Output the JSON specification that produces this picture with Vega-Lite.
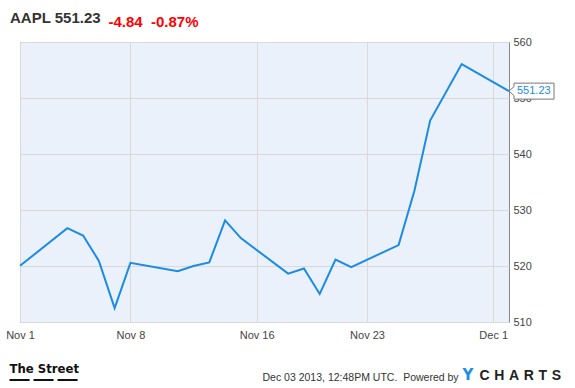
{
  "$schema": "https://vega.github.io/schema/vega-lite/v6.json",
  "width": 489,
  "height": 280,
  "autosize": {"type": "none"},
  "padding": {"left": 20, "top": 42, "right": 66, "bottom": 66},
  "background": "white",
  "config": {
    "view": {"stroke": "#888888", "strokeWidth": 1, "fill": "#eaf1fb"}
  },
  "title": {
    "text": "AAPL 551.23",
    "anchor": "start",
    "frame": "group",
    "dx": -10,
    "dy": 28,
    "offset": 16,
    "font": "Liberation Sans",
    "fontSize": 15,
    "fontWeight": "bold",
    "color": "#333333"
  },
  "data": {
    "values": [
      {"date": "2013-11-01", "close": 520.03},
      {"date": "2013-11-04", "close": 526.75},
      {"date": "2013-11-05", "close": 525.45},
      {"date": "2013-11-06", "close": 520.92},
      {"date": "2013-11-07", "close": 512.49},
      {"date": "2013-11-08", "close": 520.56},
      {"date": "2013-11-11", "close": 519.05},
      {"date": "2013-11-12", "close": 520.01},
      {"date": "2013-11-13", "close": 520.63},
      {"date": "2013-11-14", "close": 528.16},
      {"date": "2013-11-15", "close": 524.99},
      {"date": "2013-11-18", "close": 518.63},
      {"date": "2013-11-19", "close": 519.55},
      {"date": "2013-11-20", "close": 515.0},
      {"date": "2013-11-21", "close": 521.14},
      {"date": "2013-11-22", "close": 519.8},
      {"date": "2013-11-25", "close": 523.74},
      {"date": "2013-11-26", "close": 533.4},
      {"date": "2013-11-27", "close": 545.96},
      {"date": "2013-11-29", "close": 556.07},
      {"date": "2013-12-02", "close": 551.23}
    ]
  },
  "layer": [
    {
      "mark": {"type": "line", "color": "#1b8be6", "strokeWidth": 2, "clip": false},
      "encoding": {
        "x": {
          "field": "date", "type": "temporal",
          "scale": {"type": "utc", "domain": [{"year": 2013, "month": 11, "date": 1, "utc": true}, {"year": 2013, "month": 12, "date": 2, "utc": true}]},
          "axis": {
            "orient": "bottom",
            "values": [
              {"year": 2013, "month": 11, "date": 1, "utc": true},
              {"year": 2013, "month": 11, "date": 8, "utc": true},
              {"year": 2013, "month": 11, "date": 16, "utc": true},
              {"year": 2013, "month": 11, "date": 23, "utc": true},
              {"year": 2013, "month": 12, "date": 1, "utc": true}
            ],
            "labelExpr": "utcFormat(datum.value, '%b %-d')",
            "grid": true, "gridColor": "#d9d9d9", "ticks": false, "domain": false,
            "labelFlush": false, "labelOverlap": false, "labelPadding": 7,
            "labelFont": "Liberation Sans", "labelFontSize": 11, "labelColor": "#444444",
            "title": "Dec 03 2013, 12:48PM UTC.\u00a0\u00a0Powered by",
            "titleX": 242, "titleY": 58, "titleAlign": "left", "titleBaseline": "alphabetic",
            "titleFont": "Liberation Sans", "titleFontSize": 10.5, "titleFontWeight": "normal", "titleColor": "#333333"
          }
        },
        "y": {
          "field": "close", "type": "quantitative",
          "scale": {"domain": [510, 560], "zero": false, "nice": false},
          "axis": {
            "orient": "right",
            "values": [510, 520, 530, 540, 550, 560],
            "grid": true, "gridColor": "#d9d9d9", "ticks": false, "domain": false,
            "labelFlush": false, "labelPadding": 4,
            "labelFont": "Liberation Sans", "labelFontSize": 11, "labelColor": "#444444",
            "title": "The Street",
            "titleAngle": 0, "titleX": -500, "titleY": 330, "titleAlign": "left", "titleBaseline": "alphabetic",
            "titleFont": "DejaVu Sans Condensed, DejaVu Sans, sans-serif", "titleFontSize": 13, "titleFontWeight": "bold", "titleColor": "#111111"
          }
        }
      }
    },
    {
      "transform": [{"filter": "datum.close == 551.23"}],
      "mark": {
        "type": "point",
        "shape": "M0,0L0.5,-0.45L0.5,-0.8L4.5,-0.8L4.5,0.8L0.5,0.8L0.5,0.45Z",
        "size": 400, "filled": true, "fill": "white", "stroke": "#777777", "strokeWidth": 1, "opacity": 1, "clip": false
      },
      "encoding": {
        "x": {
          "field": "date", "type": "temporal",
          "axis": {
            "orient": "bottom", "labels": false, "ticks": false, "grid": false, "domain": false,
            "title": "Y", "titleX": 442, "titleY": 57, "titleAlign": "left", "titleBaseline": "alphabetic",
            "titleFont": "DejaVu Sans", "titleFontSize": 15, "titleFontWeight": "bold", "titleColor": "#1a8fe3"
          }
        },
        "y": {
          "field": "close", "type": "quantitative",
          "axis": {
            "orient": "left", "labels": false, "ticks": false, "grid": false, "domain": false,
            "title": "C\u2004H\u2004A\u2004R\u2004T\u2004S",
            "titleAngle": 0, "titleX": 459, "titleY": 337, "titleAlign": "left", "titleBaseline": "alphabetic",
            "titleFont": "Liberation Sans", "titleFontSize": 14, "titleFontWeight": "bold", "titleColor": "#222222"
          }
        }
      }
    },
    {
      "transform": [{"filter": "datum.close == 551.23"}],
      "mark": {"type": "text", "align": "left", "baseline": "middle", "dx": 8, "font": "Liberation Sans", "fontSize": 11, "color": "#1b8be6", "clip": false},
      "encoding": {
        "x": {
          "field": "date", "type": "temporal",
          "axis": {
            "orient": "bottom", "labels": false, "ticks": false, "grid": false, "domain": false,
            "title": "\u2014\u2009\u2014\u2009\u2014", "titleX": -11, "titleY": 62, "titleAlign": "left", "titleBaseline": "alphabetic",
            "titleFont": "Liberation Sans", "titleFontSize": 20, "titleFontWeight": "bold", "titleColor": "#111111"
          }
        },
        "y": {
          "field": "close", "type": "quantitative",
          "axis": {
            "orient": "left", "labels": false, "ticks": false, "grid": false, "domain": false,
            "title": "-4.84\u00a0\u00a0-0.87%",
            "titleAngle": 0, "titleX": 88, "titleY": -16, "titleAlign": "left", "titleBaseline": "alphabetic",
            "titleFont": "Liberation Sans", "titleFontSize": 15, "titleFontWeight": "bold", "titleColor": "#ff0000"
          }
        },
        "text": {"field": "close", "type": "quantitative", "format": ".2f"}
      }
    }
  ],
  "resolve": {"axis": {"x": "independent", "y": "independent"}}
}
